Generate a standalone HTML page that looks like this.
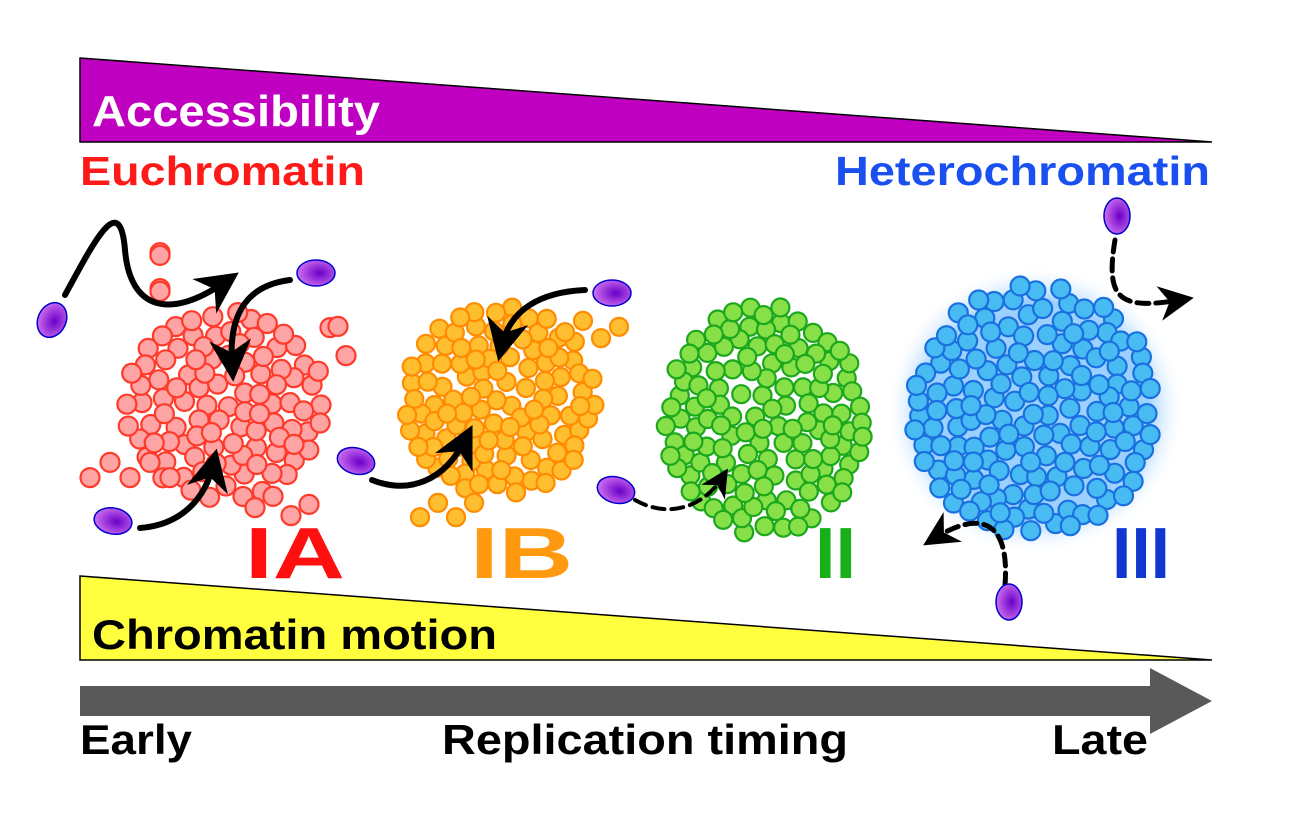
<!DOCTYPE html>
<html><head><meta charset="utf-8"><style>
html,body{margin:0;padding:0;background:#fff}
svg{display:block}
text{font-family:"Liberation Sans",sans-serif;font-weight:bold}
</style></head><body>
<svg id="s" width="1296" height="831" viewBox="0 0 1296 831" xmlns="http://www.w3.org/2000/svg">
<defs>
<radialGradient id="pg" cx="0.6" cy="0.5" r="0.6"><stop offset="0" stop-color="#6a00c8"/><stop offset="1" stop-color="#d070f0"/></radialGradient>
<radialGradient id="glow" cx="0.5" cy="0.5" r="0.5"><stop offset="0.75" stop-color="#9cd0ff"/><stop offset="1" stop-color="#ffffff" stop-opacity="0"/></radialGradient>
<marker id="ah" viewBox="0 0 10 10" refX="6" refY="5" markerWidth="7" markerHeight="7" orient="auto"><path d="M0,0 L10,5 L0,10 L3,5 z" fill="#000"/></marker>
</defs>
<polygon points="80,58 1212,142 80,142" fill="#c000c0" stroke="#000" stroke-width="1.5"/>
<text x="92" y="126" font-size="44" fill="#fff" textLength="288" lengthAdjust="spacingAndGlyphs">Accessibility</text>
<text x="80" y="185" font-size="41" fill="#ff1a1a" textLength="285" lengthAdjust="spacingAndGlyphs">Euchromatin</text>
<text x="835" y="185" font-size="41" fill="#1a50f0" textLength="375" lengthAdjust="spacingAndGlyphs">Heterochromatin</text>
<ellipse cx="1035" cy="410" rx="150" ry="145" fill="url(#glow)"/>
<g id="clusters"></g>
<text x="245" y="578" font-size="72" fill="#ff1010" textLength="100" lengthAdjust="spacingAndGlyphs">IA</text>
<text x="470" y="578" font-size="72" fill="#ff9a10" textLength="103" lengthAdjust="spacingAndGlyphs">IB</text>
<text x="815" y="578" font-size="72" fill="#18b018" textLength="41" lengthAdjust="spacingAndGlyphs">II</text>
<text x="1112" y="578" font-size="72" fill="#1038d0" textLength="58" lengthAdjust="spacingAndGlyphs">III</text>
<polygon points="80,576 1212,660 80,660" fill="#ffff40" stroke="#000" stroke-width="1.5"/>
<text x="92" y="649" font-size="42" fill="#000" textLength="405" lengthAdjust="spacingAndGlyphs">Chromatin motion</text>
<polygon points="80,686 1150,686 1150,668 1212,701 1150,734 1150,716 80,716" fill="#595959"/>
<text x="80" y="754" font-size="42" fill="#000" textLength="112" lengthAdjust="spacingAndGlyphs">Early</text>
<text x="442" y="754" font-size="42" fill="#000" textLength="406" lengthAdjust="spacingAndGlyphs">Replication timing</text>
<text x="1052" y="754" font-size="42" fill="#000" textLength="96" lengthAdjust="spacingAndGlyphs">Late</text>
<g fill="none" stroke="#000" stroke-width="6" stroke-linecap="round">
<path d="M65,295 C95,240 120,190 125,250 C130,310 170,320 225,282" marker-end="url(#ah)"/>
<path d="M290,280 C250,285 228,310 232,365" marker-end="url(#ah)"/>
<path d="M140,528 C180,525 205,500 213,465" marker-end="url(#ah)"/>
<path d="M585,290 C540,292 510,310 502,345" marker-end="url(#ah)"/>
<path d="M372,480 C410,495 445,480 465,440" marker-end="url(#ah)"/>
<path d="M635,500 C670,520 705,505 722,478" stroke-dasharray="12,7" stroke-width="4" marker-end="url(#ah)"/>
<path d="M1115,240 C1105,300 1120,310 1180,300" stroke-dasharray="12,7" stroke-width="5" marker-end="url(#ah)"/>
<path d="M1005,585 C1010,520 980,510 935,538" stroke-dasharray="12,7" stroke-width="5" marker-end="url(#ah)"/>
</g>
<g stroke="#0000cc" stroke-width="1.5" fill="url(#pg)">
<ellipse cx="52" cy="320" rx="14" ry="18" transform="rotate(25 52 320)"/>
<ellipse cx="316" cy="273" rx="19" ry="13"/>
<ellipse cx="113" cy="521" rx="19" ry="13" transform="rotate(10 113 521)"/>
<ellipse cx="612" cy="293" rx="19" ry="13"/>
<ellipse cx="356" cy="461" rx="19" ry="13" transform="rotate(15 356 461)"/>
<ellipse cx="616" cy="490" rx="19" ry="13" transform="rotate(15 616 490)"/>
<ellipse cx="1117" cy="216" rx="13" ry="18"/>
<ellipse cx="1009" cy="602" rx="13" ry="18"/>
</g>
</svg>
<script>
var g=document.getElementById('clusters');var ns='http://www.w3.org/2000/svg';
var seed=7;function rnd(){seed=(seed*16807)%2147483647;return seed/2147483647;}
function cluster(cx,cy,rx,ry,r,n,fill,stroke,tails){
 var pts=[];var tries=0;
 while(pts.length<n&&tries<20000){tries++;var a=rnd()*6.283,d=Math.sqrt(rnd());var x=cx+Math.cos(a)*rx*d,y=cy+Math.sin(a)*ry*d;
  var ok=true;for(var i=0;i<pts.length;i++){var dx=pts[i][0]-x,dy=pts[i][1]-y;if(dx*dx+dy*dy<(r*1.55)*(r*1.55)){ok=false;break;}}
  if(ok)pts.push([x,y]);}
 (tails||[]).forEach(function(t){for(var k=0;k<t[4];k++){pts.push([t[0]+t[2]*k,t[1]+t[3]*k+(k%2?-r*0.8:r*0.8)]);}});
 pts.forEach(function(p){var c=document.createElementNS(ns,'circle');c.setAttribute('cx',p[0].toFixed(1));c.setAttribute('cy',p[1].toFixed(1));c.setAttribute('r',r);c.setAttribute('fill',fill);c.setAttribute('stroke',stroke);c.setAttribute('stroke-width',2.2);g.appendChild(c);});
}
cluster(225,405,100,95,9.5,120,'#ffa4a4','#ff3a2a',[[90,470,20,0,5],[160,245,0,18,4],[255,500,18,4,4],[330,320,8,14,3]]);
cluster(500,400,95,95,9,130,'#ffbe30','#ff8c00',[[420,510,18,0,4],[565,325,18,3,4]]);
cluster(765,420,100,115,9,190,'#88e048','#1ca81c',[]);
cluster(1035,410,122,125,9.5,230,'#48bcf2','#1a70e0',[]);
</script>
</body></html>
